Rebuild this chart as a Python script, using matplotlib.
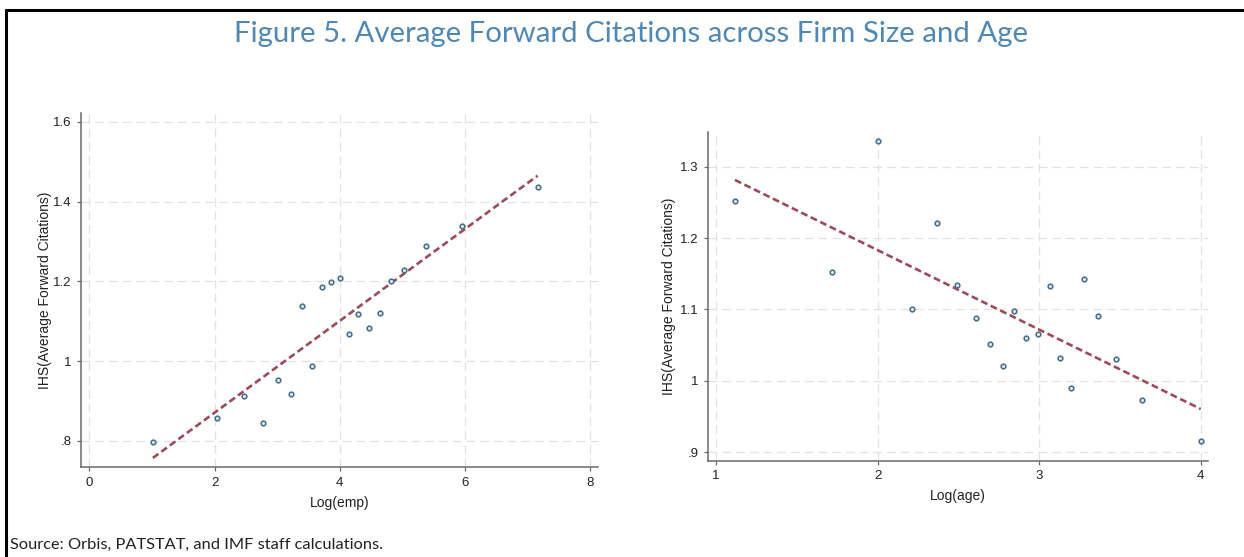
import matplotlib
matplotlib.use("Agg")
import matplotlib.pyplot as plt
from matplotlib.lines import Line2D

# Binned means: log employment vs IHS of average forward citations
emp_log = [1.015, 2.035, 2.478, 2.779, 3.015, 3.22, 3.39, 3.557, 3.71, 3.858,
           4.0, 4.147, 4.295, 4.46, 4.643, 4.826, 5.03, 5.37, 5.953, 7.165]
emp_ihs = [0.798, 0.8575, 0.914, 0.844, 0.953, 0.918, 1.138, 0.988, 1.186, 1.198,
           1.209, 1.068, 1.119, 1.0825, 1.121, 1.2017, 1.229, 1.288, 1.339, 1.437]
emp_fit_x = [1.015, 7.16]
emp_fit_y = [0.7575, 1.465]

# Binned means: log firm age vs IHS of average forward citations
age_log = [1.117, 1.717, 2.005, 2.21, 2.365, 2.492, 2.606, 2.696, 2.775, 2.847,
           2.92, 2.994, 3.066, 3.132, 3.199, 3.275, 3.364, 3.478, 3.638, 4.0]
age_ihs = [1.2515, 1.1522, 1.3354, 1.1, 1.2212, 1.134, 1.0874, 1.0515, 1.0207, 1.0972,
           1.06, 1.0655, 1.1331, 1.0319, 0.99, 1.142, 1.0907, 1.0305, 0.9727, 0.9165]
age_fit_x = [1.117, 4.0]
age_fit_y = [1.2814, 0.9606]

emp_xticks = [0, 2, 4, 6, 8]
emp_yticks = [0.8, 1.0, 1.2, 1.4, 1.6]
emp_yticklabels = [".8", "1", "1.2", "1.4", "1.6"]
age_xticks = [1, 2, 3, 4]
age_yticks = [0.9, 1.0, 1.1, 1.2, 1.3]
age_yticklabels = [".9", "1", "1.1", "1.2", "1.3"]

title = "Figure 5. Average Forward Citations across Firm Size and Age"
source = "Source: Orbis, PATSTAT, and IMF staff calculations."
ylab = "IHS(Average Forward Citations)"

W, H = 1244, 557
fig = plt.figure(figsize=(W / 100, H / 100), dpi=100)
fig.patch.set_facecolor("white")

MARKER = "#45708f"
FIT = "#9e4a5a"
GRID = "#e2e2e2"
AXC = "#6a6a6a"
TXT = "#222222"
LABEL_FONT = ["Liberation Sans", "DejaVu Sans"]


def px_rect(left, right, top, bottom):
    return [left / W, (H - bottom) / H, (right - left) / W, (bottom - top) / H]


def style_axes(ax, xlim, ylim, xticks, yticks, yticklabels, xlabel, ylab_x):
    ax.set_xlim(*xlim)
    ax.set_ylim(*ylim)
    ax.set_xticks(xticks)
    ax.set_xticklabels([str(t) for t in xticks])
    ax.set_yticks(yticks)
    ax.set_yticklabels(yticklabels)
    for s in ("top", "right"):
        ax.spines[s].set_visible(False)
    for s in ("left", "bottom"):
        ax.spines[s].set_color(AXC)
        ax.spines[s].set_linewidth(1.1)
    ax.tick_params(axis="both", direction="out", length=3, width=0.9,
                   color=AXC, labelcolor=TXT, labelsize=9.5, pad=4)
    for lab in ax.get_xticklabels() + ax.get_yticklabels():
        lab.set_family(LABEL_FONT)
    ax.grid(True, color=GRID, linewidth=0.9, linestyle=(0, (7, 4)))
    ax.set_axisbelow(True)
    ax.set_xlabel(xlabel, fontsize=10, color=TXT, family=LABEL_FONT, labelpad=5)
    ax.set_ylabel(ylab, fontsize=10, color=TXT, family=LABEL_FONT)
    ax.yaxis.set_label_coords(ylab_x, 0.5)


# Left panel: firm size
ax1 = fig.add_axes(px_rect(81.3, 598.3, 112.7, 467.0))
ax1.plot(emp_fit_x, emp_fit_y, color=FIT, linewidth=1.9, dashes=(2.6, 1.4), zorder=2)
ax1.plot(emp_log, emp_ihs, linestyle="none", marker="o", markersize=3.3,
         markerfacecolor="white", markeredgecolor=MARKER, markeredgewidth=1.2, zorder=3)
style_axes(ax1, (-0.128, 8.13), (0.7348, 1.623), emp_xticks, emp_yticks,
           emp_yticklabels, "Log(emp)", -0.056)

# Right panel: firm age
ax2 = fig.add_axes(px_rect(708.3, 1208.0, 131.7, 460.5))
ax2.plot(age_fit_x, age_fit_y, color=FIT, linewidth=1.9, dashes=(2.6, 1.4), zorder=2)
ax2.plot(age_log, age_ihs, linestyle="none", marker="o", markersize=3.3,
         markerfacecolor="white", markeredgecolor=MARKER, markeredgewidth=1.2, zorder=3)
style_axes(ax2, (0.952, 4.045), (0.8885, 1.349), age_xticks, age_yticks,
           age_yticklabels, "Log(age)", -0.064)

# Title and source note
fig.text(631 / W, 1 - 34 / H, title, ha="center", va="center",
         fontsize=21.2, color="#5088b4", family=["Lato", "DejaVu Sans"])
fig.text(10 / W, 1 - 545 / H, source, ha="left", va="center",
         fontsize=11.8, color=TXT, family=["Lato", "DejaVu Sans"])

# Frame around the figure box (top and left edges)
fig.add_artist(Line2D([4.5 / W, 1.0], [1 - 10 / H, 1 - 10 / H], color="black",
                      linewidth=2.2, transform=fig.transFigure, solid_capstyle="butt"))
fig.add_artist(Line2D([6 / W, 6 / W], [1 - 9 / H, 0.0], color="black",
                      linewidth=2.2, transform=fig.transFigure, solid_capstyle="butt"))

fig.savefig("out.png", dpi=100, facecolor="white")
